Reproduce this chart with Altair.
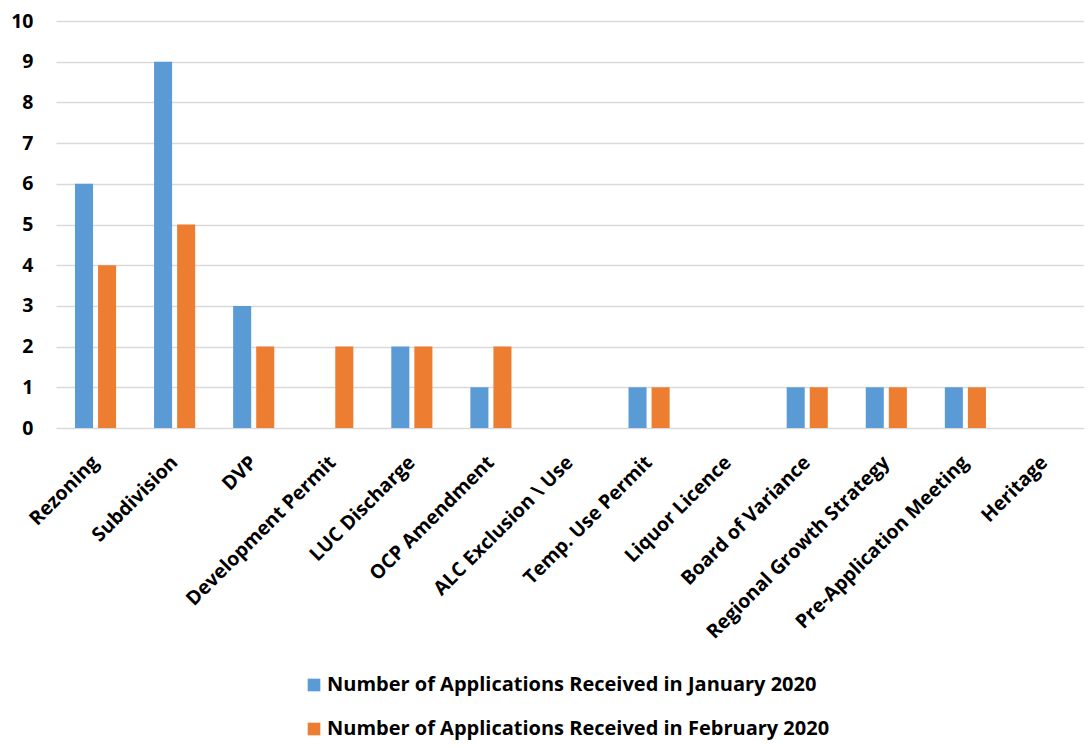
import altair as alt
import pandas as pd

categories = ["Rezoning", "Subdivision", "DVP", "Development Permit", "LUC Discharge",
              "OCP Amendment", "ALC Exclusion \\ Use", "Temp. Use Permit", "Liquor Licence",
              "Board of Variance", "Regional Growth Strategy", "Pre-Application Meeting", "Heritage"]
jan = [6, 9, 3, 0, 2, 1, 0, 1, 0, 1, 1, 1, 0]
feb = [4, 5, 2, 2, 2, 2, 0, 1, 0, 1, 1, 1, 0]
series = ["Number of Applications Received in January 2020",
          "Number of Applications Received in February 2020"]
colors = ["#5B9BD5", "#ED7D31"]

rows = []
for c, j, f in zip(categories, jan, feb):
    rows.append({"cat": c, "series": series[0], "value": j})
    rows.append({"cat": c, "series": series[1], "value": f})
df = pd.DataFrame(rows)

FONT = "Open Sans"

chart = alt.Chart(df).mark_bar().encode(
    x=alt.X("cat:N", sort=categories, title=None,
            scale=alt.Scale(paddingInner=0.48, paddingOuter=0.24),
            axis=alt.Axis(labelAngle=-45, labelAlign="right", labelBaseline="middle",
                          labelFontSize=19.5, labelFontWeight="bold", labelColor="black",
                          labelFont=FONT, ticks=False, domain=False, labelPadding=31,
                          labelLimit=400)),
    xOffset=alt.XOffset("series:N", sort=series,
                        scale=alt.Scale(paddingInner=0.217, paddingOuter=0)),
    y=alt.Y("value:Q", title=None,
            scale=alt.Scale(domain=[0, 10], nice=False),
            axis=alt.Axis(values=list(range(0, 11)), labelFontSize=19.5, labelFontWeight="bold",
                          labelColor="black", labelFont=FONT, ticks=False, domain=False,
                          labelPadding=23, gridColor="#d9d9d9", gridWidth=1.5)),
    color=alt.Color("series:N", sort=series,
                    scale=alt.Scale(domain=series, range=colors),
                    legend=alt.Legend(title=None, orient="none", legendX=248, legendY=654,
                                      direction="vertical", symbolType="square",
                                      symbolSize=160, symbolStrokeWidth=0,
                                      labelFontSize=20, labelFontWeight="bold",
                                      labelFont=FONT, labelColor="black", labelLimit=700,
                                      rowPadding=24, labelOffset=3)),
).properties(
    width=1028, height=407,
    autosize=alt.AutoSizeParams(type="none"),
    padding={"left": 48, "top": 13, "right": 0, "bottom": 312},
).configure_view(stroke=None)

chart.save("out.html", embed_options={"renderer": "svg", "actions": False})
